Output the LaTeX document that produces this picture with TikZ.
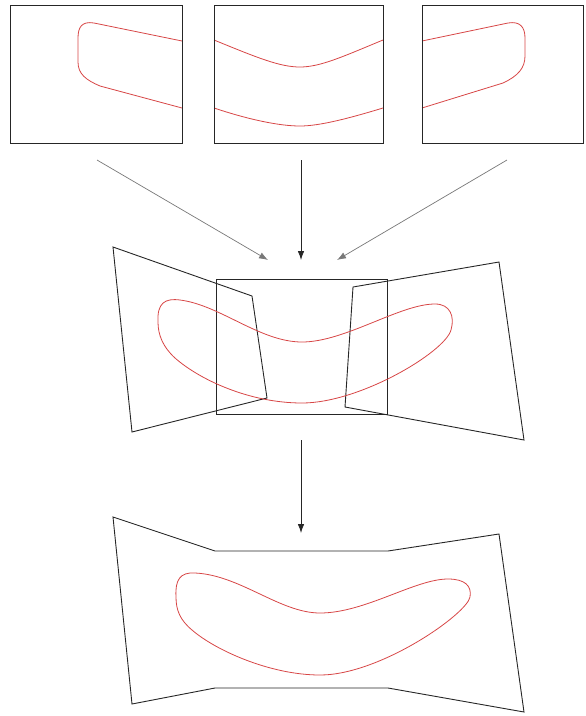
\documentclass[tikz,border=0pt]{standalone}
\usetikzlibrary{arrows.meta}
\definecolor{curvered}{RGB}{215,70,70}
\definecolor{arrgray}{RGB}{120,120,120}
\tikzset{
  frame/.style={draw=black!85, line width=0.9pt, line join=miter},
  outline/.style={draw=curvered, line width=0.8pt},
  darrow/.style={draw=black!85, line width=0.8pt, -{Latex[length=9pt,width=6.5pt]}},
  garrow/.style={draw=arrgray, line width=0.7pt, -{Latex[length=9pt,width=6.5pt]}, arrgray},
}
\begin{document}
\begin{tikzpicture}[x=1pt,y=-1pt]
\useasboundingbox (0,0) rectangle (586,716);
% ---- top views ----
\draw[outline] (182,41) -- (94,23) .. controls (82,21) and (78,27) .. (78,38) -- (78,62)
   .. controls (78,74) and (86,80) .. (100,86) -- (182,108);
\draw[outline] (214,40) .. controls (258,58) and (280,67) .. (300,67)
   .. controls (320,67) and (342,57) .. (383,40);
\draw[outline] (214,108) .. controls (250,120) and (280,126) .. (300,126)
   .. controls (320,126) and (350,118) .. (383,108);
\draw[outline] (422,41) -- (508,23) .. controls (520,21) and (525,27) .. (525,38) -- (525,56)
   .. controls (525,68) and (518,76) .. (503,83) -- (422,108);
\node[frame, minimum width=172pt, minimum height=138pt, anchor=north west, inner sep=0pt] (vl) at (10,5) {};
\node[frame, minimum width=169pt, minimum height=138pt, anchor=north west, inner sep=0pt] (vm) at (214,5) {};
\node[frame, minimum width=161pt, minimum height=138pt, anchor=north west, inner sep=0pt] (vr) at (422,5) {};
% ---- arrow end points ----
\coordinate (al0) at (97,160);
\coordinate (al1) at (268,260);
\coordinate (am0) at (301,160);
\coordinate (am1) at (301,260);
\coordinate (ar0) at (507,160);
\coordinate (ar1) at (337,260);
\coordinate (ab0) at (301,440);
\coordinate (ab1) at (301,533);
\draw[garrow] (al0) -- (al1);
\draw[darrow] (am0) -- (am1);
\draw[garrow] (ar0) -- (ar1);
\draw[darrow] (ab0) -- (ab1);
% ---- middle: overlapping warped views ----
\draw[frame] (113,247) -- (252,296) -- (267,398) -- (132,432) -- cycle;
\draw[frame] (353,287) -- (499,262) -- (524,440) -- (345,407) -- cycle;
\node[frame, minimum width=171pt, minimum height=135pt, anchor=north west, inner sep=0pt] (mc) at (216,279) {};
\draw[outline] (158,322) .. controls (157,303) and (165,298) .. (180,300)
   .. controls (220,305) and (260,342) .. (302,342)
   .. controls (345,342) and (400,304) .. (435,304)
   .. controls (450,304) and (455,316) .. (451,330)
   .. controls (445,352) and (360,403) .. (302,403)
   .. controls (250,403) and (200,380) .. (175,358)
   .. controls (163,347) and (158,335) .. (158,322) -- cycle;
% ---- bottom: stitched panorama ----
\draw[frame] (113,517) -- (215,551) -- (388,551) -- (499,534) -- (524,712)
   -- (388,688) -- (215,688) -- (132,704) -- cycle;
\draw[outline] (176,597) .. controls (175,580) and (180,572) .. (195,573)
   .. controls (240,575) and (280,613) .. (320,613)
   .. controls (365,613) and (415,579) .. (448,579)
   .. controls (465,579) and (472,586) .. (470,597)
   .. controls (467,614) and (380,675) .. (320,675)
   .. controls (270,675) and (215,650) .. (192,630)
   .. controls (180,620) and (176,610) .. (176,597) -- cycle;
\end{tikzpicture}
\end{document}
